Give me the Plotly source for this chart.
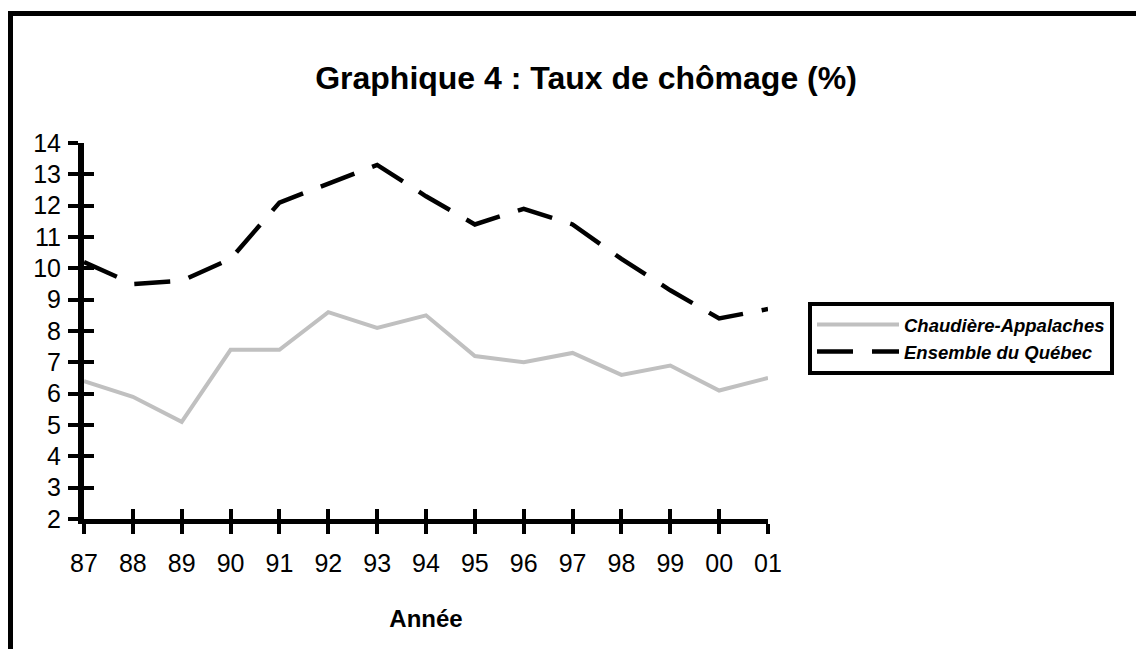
import plotly.graph_objects as go

years = ["87", "88", "89", "90", "91", "92", "93", "94", "95", "96", "97", "98", "99", "00", "01"]
chaudiere = [6.4, 5.9, 5.1, 7.4, 7.4, 8.6, 8.1, 8.5, 7.2, 7.0, 7.3, 6.6, 6.9, 6.1, 6.5]
quebec = [10.2, 9.5, 9.6, 10.3, 12.1, 12.7, 13.3, 12.3, 11.4, 11.9, 11.4, 10.3, 9.3, 8.4, 8.7]
y_ticks = list(range(2, 15))

FONT = "Arial, 'Liberation Sans', sans-serif"
OFF = 8  # default page body margin
W, H = 1144 - OFF, 649 - OFF
L, R, T, B = 84 - OFF, 768 - OFF, 143 - OFF, 519 - OFF  # plot area in figure px


def px(xp):
    """page x -> paper"""
    return (xp - OFF - L) / (R - L)


def py(yp):
    """page y -> paper"""
    return (B - (yp - OFF)) / (B - T)


fig = go.Figure()
fig.add_trace(go.Scatter(
    x=years, y=chaudiere, mode="lines", name="Chaudière-Appalaches",
    line=dict(color="#c0c0c0", width=4), legendgroup="a"))
fig.add_trace(go.Scatter(
    x=years, y=quebec, mode="lines", name="Ensemble du Québec",
    line=dict(color="black", width=4.5, dash="36px,19px"), legendgroup="b"))
# invisible copy on the overlay axes so their inward ticks are drawn
fig.add_trace(go.Scatter(
    x=years, y=quebec, mode="lines", xaxis="x2", yaxis="y2", opacity=0,
    showlegend=False, hoverinfo="skip", line=dict(width=0)))

axis_common = dict(showgrid=False, zeroline=False, linecolor="black",
                   tickcolor="black", tickwidth=4, ticklen=10,
                   tickfont=dict(family=FONT, size=25, color="black"))

fig.update_layout(
    width=W, height=H,
    margin=dict(l=L, r=W - R, t=T, b=H - B),
    paper_bgcolor="white", plot_bgcolor="white",
    font=dict(family=FONT, color="black"),
    title=dict(text="<b>Graphique 4 : Taux de chômage (%)</b>",
               font=dict(family=FONT, size=32, color="black"),
               x=px(586), xref="paper", xanchor="center",
               y=1 - (78 - OFF) / H, yref="container", yanchor="middle"),
    xaxis=dict(type="category", categoryorder="array", categoryarray=years,
               range=[0, len(years) - 1], showline=True, linewidth=5, ticks="outside",
               ticklabelstandoff=8,
               title=dict(text="<b>Année</b>", font=dict(family=FONT, size=24, color="black"),
                          standoff=36),
               **axis_common),
    yaxis=dict(range=[2, 14], tickvals=y_ticks, showline=True, linewidth=6, ticks="outside",
               ticklabelstandoff=2, **axis_common),
    xaxis2=dict(type="category", categoryorder="array", categoryarray=years,
                overlaying="x", range=[0, len(years) - 1],
                showline=False, ticks="inside", showticklabels=False,
                anchor="y2", side="bottom", **axis_common),
    yaxis2=dict(overlaying="y", range=[2, 14], tickvals=y_ticks,
                showline=False, ticks="inside", showticklabels=False,
                anchor="x2", side="left", **axis_common),
    legend=dict(x=px(808), y=py(302), xanchor="left", yanchor="top",
                xref="paper", yref="paper",
                bordercolor="black", borderwidth=4, bgcolor="white",
                font=dict(family=FONT, size=18.5, color="black", weight="bold", style="italic"),
                itemwidth=82, tracegroupgap=6, traceorder="normal"),
    showlegend=True,
)

# outer frame (top and left edges)
fig.add_shape(type="line", xref="paper", yref="paper",
              x0=px(8), x1=px(1170), y0=py(13.5), y1=py(13.5),
              line=dict(color="black", width=5))
fig.add_shape(type="line", xref="paper", yref="paper",
              x0=px(10.5), x1=px(10.5), y0=py(11), y1=py(680),
              line=dict(color="black", width=5))

fig.write_html("out.html")
